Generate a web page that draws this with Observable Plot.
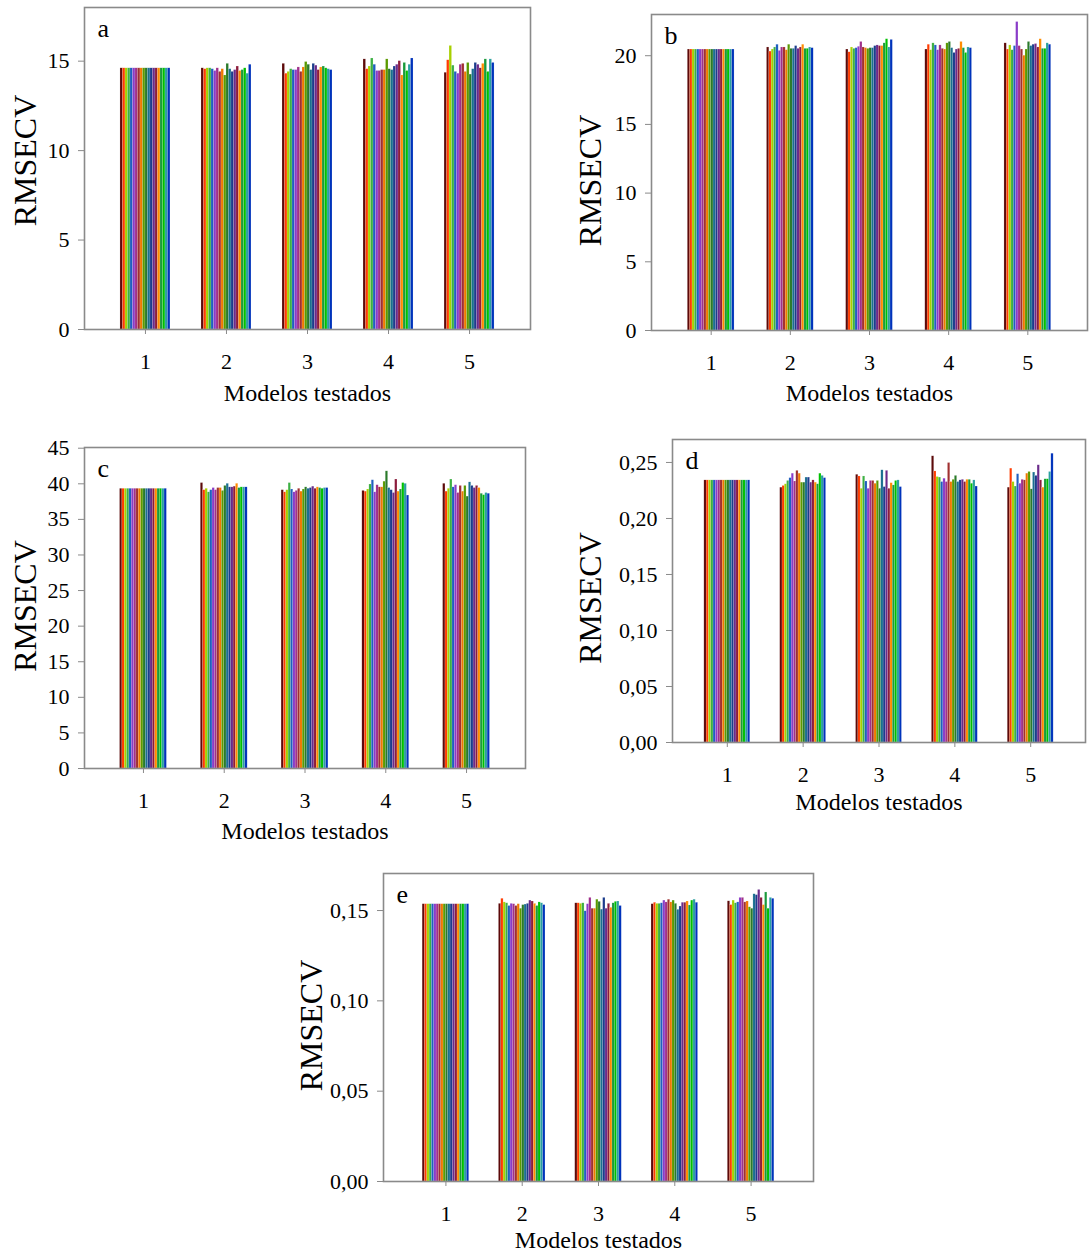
<!DOCTYPE html>
<html>
<head>
<meta charset="utf-8">
<script src="https://cdn.jsdelivr.net/npm/d3@7"></script>
<script src="https://cdn.jsdelivr.net/npm/@observablehq/plot@0.6"></script>
<style>
  html, body { margin: 0; padding: 0; background: #fff; }
  #page { position: relative; width: 1089px; height: 1254px; overflow: hidden; }
  .panel { position: absolute; }
  .panel svg text { font-family: 'Liberation Serif', 'Times New Roman', serif; }
</style>
</head>
<body>
<div id="page"></div>
<script>
// Tested models (x groups) and the 20 series drawn inside each group
const models = [1, 2, 3, 4, 5];
const seriesColors = [
  "#5c0a0a", "#ff3c00", "#a8d000", "#3cb043", "#1f5fbf",
  "#8a3cc8", "#a0308a", "#a03030", "#f07800", "#5a9a00",
  "#2a7a2a", "#1a6f8f", "#1c3c8c", "#6a2a8a", "#8c1c3c",
  "#ff8c00", "#1a9a3a", "#00c000", "#2aa0a0", "#0033bb"
];

// RMSECV per model (one row of 20 series per model)
const rmsecvA = [
  [14.6, 14.6, 14.6, 14.6, 14.6, 14.6, 14.6, 14.6, 14.6, 14.6, 14.6, 14.6, 14.6, 14.6, 14.6, 14.6, 14.6, 14.6, 14.6, 14.6],
  [14.6, 14.55, 14.6, 14.6, 14.55, 14.45, 14.6, 14.4, 14.55, 14.2, 14.85, 14.55, 14.4, 14.5, 14.7, 14.45, 14.5, 14.6, 14.3, 14.8],
  [14.85, 14.3, 14.4, 14.55, 14.5, 14.5, 14.65, 14.4, 14.65, 14.95, 14.8, 14.5, 14.85, 14.75, 14.5, 14.65, 14.7, 14.6, 14.55, 14.5],
  [15.1, 14.55, 14.7, 15.15, 14.8, 14.45, 14.45, 14.5, 14.5, 15.1, 14.55, 14.5, 14.7, 14.8, 15.0, 14.2, 14.9, 14.45, 14.8, 15.15],
  [14.35, 15.05, 15.85, 14.75, 14.4, 14.3, 14.8, 14.85, 14.4, 14.9, 14.25, 14.55, 14.9, 14.8, 14.6, 14.85, 15.1, 14.4, 15.1, 14.9]
];
const rmsecvB = [
  [20.45, 20.45, 20.45, 20.45, 20.45, 20.45, 20.45, 20.45, 20.45, 20.45, 20.45, 20.45, 20.45, 20.45, 20.45, 20.45, 20.45, 20.45, 20.45, 20.45],
  [20.6, 20.3, 20.45, 20.6, 20.8, 20.35, 20.6, 20.6, 20.4, 20.8, 20.5, 20.5, 20.7, 20.5, 20.6, 20.8, 20.5, 20.5, 20.6, 20.55],
  [20.45, 20.25, 20.6, 20.5, 20.55, 20.65, 21.0, 20.6, 20.55, 20.5, 20.55, 20.55, 20.7, 20.75, 20.7, 20.7, 20.9, 21.2, 20.6, 21.15],
  [20.45, 20.8, 20.4, 20.9, 20.75, 20.4, 20.75, 20.5, 20.45, 20.9, 21.0, 20.55, 20.2, 20.45, 20.5, 21.0, 20.55, 20.2, 20.6, 20.55],
  [20.9, 20.45, 20.75, 20.4, 20.7, 22.45, 20.7, 20.45, 20.0, 20.45, 21.0, 20.7, 20.8, 20.85, 20.6, 21.2, 20.5, 20.5, 20.9, 20.8]
];
const rmsecvC = [
  [39.3, 39.3, 39.3, 39.3, 39.3, 39.3, 39.3, 39.3, 39.3, 39.3, 39.3, 39.3, 39.3, 39.3, 39.3, 39.3, 39.3, 39.3, 39.3, 39.3],
  [40.1, 39.1, 39.3, 38.8, 39.1, 39.4, 39.1, 39.4, 39.4, 39.0, 39.7, 40.0, 39.5, 39.5, 39.6, 40.0, 39.4, 39.5, 39.5, 39.5],
  [39.1, 38.8, 39.1, 40.1, 39.2, 38.8, 39.0, 39.3, 38.9, 39.2, 39.5, 39.3, 39.4, 39.6, 39.3, 39.5, 39.4, 39.3, 39.4, 39.4],
  [39.0, 38.9, 39.2, 39.9, 40.5, 38.8, 39.8, 39.5, 39.5, 40.3, 41.75, 39.4, 39.1, 38.7, 40.6, 38.9, 39.2, 40.1, 40.0, 38.35],
  [40.0, 38.9, 39.3, 40.6, 39.5, 39.8, 38.7, 39.7, 38.9, 39.7, 38.2, 40.2, 39.7, 39.4, 39.7, 39.4, 38.6, 38.4, 38.7, 38.6]
];
const rmsecvD = [
  [0.234, 0.234, 0.234, 0.234, 0.234, 0.234, 0.234, 0.234, 0.234, 0.234, 0.234, 0.234, 0.234, 0.234, 0.234, 0.234, 0.234, 0.234, 0.234, 0.234],
  [0.2275, 0.229, 0.2305, 0.2335, 0.236, 0.24, 0.233, 0.2425, 0.24, 0.232, 0.232, 0.2365, 0.2365, 0.232, 0.234, 0.232, 0.2305, 0.24, 0.238, 0.236],
  [0.239, 0.2375, 0.2265, 0.2375, 0.233, 0.2265, 0.2335, 0.2335, 0.231, 0.2335, 0.2265, 0.243, 0.228, 0.2425, 0.2265, 0.2315, 0.2295, 0.2335, 0.234, 0.228],
  [0.2555, 0.242, 0.237, 0.2365, 0.2325, 0.2355, 0.2325, 0.2495, 0.2325, 0.2345, 0.238, 0.2325, 0.234, 0.2345, 0.2325, 0.2345, 0.2345, 0.231, 0.234, 0.2285],
  [0.2275, 0.2445, 0.2325, 0.2285, 0.2395, 0.231, 0.2345, 0.234, 0.24, 0.2415, 0.226, 0.241, 0.238, 0.2475, 0.234, 0.2275, 0.235, 0.235, 0.2415, 0.2578]
];
const rmsecvE = [
  [0.1535, 0.1535, 0.1535, 0.1535, 0.1535, 0.1535, 0.1535, 0.1535, 0.1535, 0.1535, 0.1535, 0.1535, 0.1535, 0.1535, 0.1535, 0.1535, 0.1535, 0.1535, 0.1535, 0.1535],
  [0.1537, 0.1565, 0.1545, 0.154, 0.1525, 0.1537, 0.1535, 0.1525, 0.1535, 0.151, 0.153, 0.1533, 0.1537, 0.1555, 0.155, 0.1537, 0.1525, 0.1545, 0.154, 0.153],
  [0.154, 0.154, 0.1537, 0.154, 0.1496, 0.1535, 0.157, 0.151, 0.151, 0.156, 0.1548, 0.1505, 0.157, 0.151, 0.1537, 0.1515, 0.154, 0.1548, 0.155, 0.1525],
  [0.1535, 0.1543, 0.1537, 0.1537, 0.154, 0.1555, 0.1545, 0.156, 0.1545, 0.1555, 0.1537, 0.1504, 0.1522, 0.1543, 0.1543, 0.155, 0.1528, 0.1555, 0.156, 0.1543],
  [0.1551, 0.153, 0.1555, 0.154, 0.1545, 0.157, 0.157, 0.1545, 0.155, 0.1518, 0.151, 0.159, 0.1585, 0.1614, 0.157, 0.153, 0.16, 0.151, 0.157, 0.1565]
];

// Y ticks for each panel
const ticksA = [0, 5, 10, 15];
const ticksB = [0, 5, 10, 15, 20];
const ticksC = [0, 5, 10, 15, 20, 25, 30, 35, 40, 45];
const ticksD = [0, 0.05, 0.10, 0.15, 0.20, 0.25];
const ticksE = [0, 0.05, 0.10, 0.15];

const serif = "'Liberation Serif', 'Times New Roman', serif";
const commaFormat = d => d.toFixed(2).replace(".", ",");

const panels = [
  {letter: "a", values: rmsecvA, ticks: ticksA, yMax: 18, fmt: d => String(d),
   left: 0, top: 0, width: 545, height: 410, ml: 84, mr: 15, mt: 7, mb: 81,
   pi: 0.383, po: 0.444, labelDx: -59, labelDy: -8, xTitleDy: 64},
  {letter: "b", values: rmsecvB, ticks: ticksB, yMax: 23, fmt: d => String(d),
   left: 545, top: 0, width: 544, height: 410, ml: 106, mr: 2, mt: 14, mb: 80,
   pi: 0.41, po: 0.459, labelDx: -61, labelDy: 8, xTitleDy: 63},
  {letter: "c", values: rmsecvC, ticks: ticksC, yMax: 45.1, fmt: d => String(d),
   left: 0, top: 420, width: 545, height: 430, ml: 84, mr: 20, mt: 27, mb: 82,
   pi: 0.42, po: 0.44, labelDx: -59, labelDy: -2, xTitleDy: 63},
  {letter: "d", values: rmsecvD, ticks: ticksD, yMax: 0.2705, fmt: commaFormat,
   left: 545, top: 420, width: 544, height: 430, ml: 127, mr: 4, mt: 19, mb: 108,
   pi: 0.395, po: 0.42, labelDx: -82, labelDy: 7, xTitleDy: 60},
  {letter: "e", values: rmsecvE, ticks: ticksE, yMax: 0.1705, fmt: commaFormat,
   left: 260, top: 850, width: 570, height: 404, ml: 123, mr: 17, mt: 23, mb: 73,
   pi: 0.39, po: 0.513, labelDx: -72, labelDy: -2, xTitleDy: 59}
];

const seriesIds = d3.range(seriesColors.length);
const page = document.getElementById("page");

for (const p of panels) {
  const rows = [];
  p.values.forEach((group, gi) => {
    group.forEach((v, si) => rows.push({model: models[gi], series: si, value: v}));
  });

  // Same band geometry as the x scale below, used to split each band into one slot per series
  const band = d3.scaleBand()
    .domain(models)
    .range([p.ml, p.width - p.mr])
    .paddingInner(p.pi)
    .paddingOuter(p.po);
  const slot = band.bandwidth() / seriesIds.length;

  const barMarks = seriesIds.map(s =>
    Plot.barY(rows.filter(r => r.series === s), {
      x: "model",
      y: "value",
      fill: "series",
      insetLeft: s * slot,
      insetRight: (seriesIds.length - 1 - s) * slot,
      stroke: "#ffffff",
      strokeOpacity: 0.35,
      strokeWidth: 0.4
    })
  );

  const chart = Plot.plot({
    width: p.width,
    height: p.height,
    marginLeft: p.ml,
    marginRight: p.mr,
    marginTop: p.mt,
    marginBottom: p.mb,
    style: {fontFamily: serif, fontSize: "22px", color: "#000", background: "transparent"},
    x: {type: "band", domain: models, paddingInner: p.pi, paddingOuter: p.po, round: false, axis: null},
    y: {domain: [0, p.yMax], axis: null},
    color: {type: "ordinal", domain: seriesIds, range: seriesColors},
    marks: [
      ...barMarks,
      Plot.frame({stroke: "#8a8a8a", strokeWidth: 1.6}),
      Plot.axisY({ticks: p.ticks, tickFormat: p.fmt, tickSize: 6, tickPadding: 9,
        stroke: "#8a8a8a", fill: "#000", fontSize: 22, fontFamily: serif, label: null}),
      Plot.axisX({tickSize: 5, tickPadding: 19, stroke: "#8a8a8a", fill: "#000",
        fontSize: 22, fontFamily: serif, label: null}),
      Plot.text(["RMSECV"], {text: d => d, frameAnchor: "left", rotate: -90,
        dx: p.labelDx, dy: p.labelDy, fontSize: 32, fontFamily: serif,
        textAnchor: "middle", lineAnchor: "middle", fill: "#000"}),
      Plot.text(["Modelos testados"], {text: d => d, frameAnchor: "bottom", dy: p.xTitleDy,
        fontSize: 24, fontFamily: serif, lineAnchor: "middle", fill: "#000"}),
      Plot.text([p.letter], {text: d => d, frameAnchor: "top-left", dx: 13, dy: 21,
        fontSize: 26, fontFamily: serif, textAnchor: "start", lineAnchor: "middle", fill: "#000"})
    ]
  });

  const holder = document.createElement("div");
  holder.className = "panel";
  holder.style.left = p.left + "px";
  holder.style.top = p.top + "px";
  holder.appendChild(chart);
  page.appendChild(holder);
}
</script>
</body>
</html>
